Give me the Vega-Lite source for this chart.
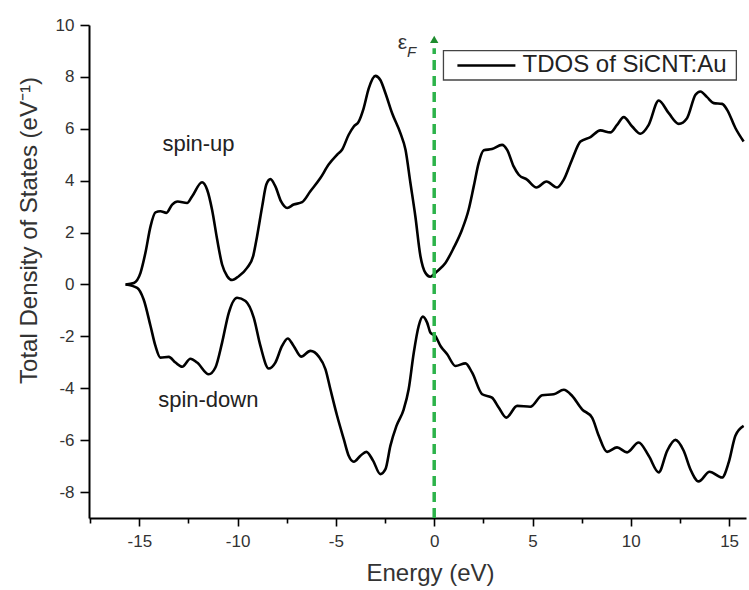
{
  "$schema": "https://vega.github.io/schema/vega-lite/v6.json",
  "autosize": {"type": "none"},
  "width": 657,
  "height": 493,
  "padding": {"left": 89, "top": 25, "right": 3, "bottom": 72},
  "background": "white",
  "config": {
    "view": {"stroke": null},
    "font": "Liberation Sans",
    "axis": {"grid": false, "domainColor": "#000000", "domainWidth": 2, "tickColor": "#000000", "tickWidth": 1.6, "labelFont": "Liberation Sans", "labelColor": "#333333", "labelFontSize": 17, "titleFont": "Liberation Sans", "titleColor": "#333333", "titleFontSize": 24, "titleFontWeight": "normal"}
  },
  "datasets": {
    "dos": [
      {"e": -15.7, "dos": 0.0, "spin": "up"},
      {"e": -15.28, "dos": 0.06, "spin": "up"},
      {"e": -14.94, "dos": 0.45, "spin": "up"},
      {"e": -14.69, "dos": 1.22, "spin": "up"},
      {"e": -14.43, "dos": 2.24, "spin": "up"},
      {"e": -14.18, "dos": 2.78, "spin": "up"},
      {"e": -13.93, "dos": 2.82, "spin": "up"},
      {"e": -13.62, "dos": 2.76, "spin": "up"},
      {"e": -13.33, "dos": 3.08, "spin": "up"},
      {"e": -13.05, "dos": 3.2, "spin": "up"},
      {"e": -12.57, "dos": 3.14, "spin": "up"},
      {"e": -12.31, "dos": 3.4, "spin": "up"},
      {"e": -11.81, "dos": 3.94, "spin": "up"},
      {"e": -11.55, "dos": 3.65, "spin": "up"},
      {"e": -11.3, "dos": 2.88, "spin": "up"},
      {"e": -11.04, "dos": 1.73, "spin": "up"},
      {"e": -10.79, "dos": 0.77, "spin": "up"},
      {"e": -10.53, "dos": 0.32, "spin": "up"},
      {"e": -10.28, "dos": 0.17, "spin": "up"},
      {"e": -9.94, "dos": 0.32, "spin": "up"},
      {"e": -9.52, "dos": 0.64, "spin": "up"},
      {"e": -9.21, "dos": 1.09, "spin": "up"},
      {"e": -9.01, "dos": 1.86, "spin": "up"},
      {"e": -8.75, "dos": 3.01, "spin": "up"},
      {"e": -8.54, "dos": 3.85, "spin": "up"},
      {"e": -8.33, "dos": 4.06, "spin": "up"},
      {"e": -8.08, "dos": 3.78, "spin": "up"},
      {"e": -7.79, "dos": 3.2, "spin": "up"},
      {"e": -7.48, "dos": 2.95, "spin": "up"},
      {"e": -7.15, "dos": 3.08, "spin": "up"},
      {"e": -6.72, "dos": 3.17, "spin": "up"},
      {"e": -6.3, "dos": 3.59, "spin": "up"},
      {"e": -5.79, "dos": 4.1, "spin": "up"},
      {"e": -5.37, "dos": 4.62, "spin": "up"},
      {"e": -4.94, "dos": 5.0, "spin": "up"},
      {"e": -4.69, "dos": 5.19, "spin": "up"},
      {"e": -4.35, "dos": 5.77, "spin": "up"},
      {"e": -4.09, "dos": 6.09, "spin": "up"},
      {"e": -3.84, "dos": 6.28, "spin": "up"},
      {"e": -3.59, "dos": 6.79, "spin": "up"},
      {"e": -3.33, "dos": 7.56, "spin": "up"},
      {"e": -2.99, "dos": 8.04, "spin": "up"},
      {"e": -2.74, "dos": 7.88, "spin": "up"},
      {"e": -2.48, "dos": 7.37, "spin": "up"},
      {"e": -2.14, "dos": 6.6, "spin": "up"},
      {"e": -1.72, "dos": 5.83, "spin": "up"},
      {"e": -1.46, "dos": 5.19, "spin": "up"},
      {"e": -1.21, "dos": 3.91, "spin": "up"},
      {"e": -0.96, "dos": 2.63, "spin": "up"},
      {"e": -0.7, "dos": 1.09, "spin": "up"},
      {"e": -0.45, "dos": 0.45, "spin": "up"},
      {"e": -0.21, "dos": 0.3, "spin": "up"},
      {"e": 0.15, "dos": 0.51, "spin": "up"},
      {"e": 0.57, "dos": 0.83, "spin": "up"},
      {"e": 0.99, "dos": 1.41, "spin": "up"},
      {"e": 1.42, "dos": 2.12, "spin": "up"},
      {"e": 1.75, "dos": 2.88, "spin": "up"},
      {"e": 2.01, "dos": 3.78, "spin": "up"},
      {"e": 2.26, "dos": 4.68, "spin": "up"},
      {"e": 2.52, "dos": 5.17, "spin": "up"},
      {"e": 2.94, "dos": 5.22, "spin": "up"},
      {"e": 3.45, "dos": 5.38, "spin": "up"},
      {"e": 3.71, "dos": 5.19, "spin": "up"},
      {"e": 4.04, "dos": 4.55, "spin": "up"},
      {"e": 4.3, "dos": 4.23, "spin": "up"},
      {"e": 4.72, "dos": 4.04, "spin": "up"},
      {"e": 5.2, "dos": 3.74, "spin": "up"},
      {"e": 5.71, "dos": 3.97, "spin": "up"},
      {"e": 6.25, "dos": 3.74, "spin": "up"},
      {"e": 6.59, "dos": 4.04, "spin": "up"},
      {"e": 7.01, "dos": 4.81, "spin": "up"},
      {"e": 7.44, "dos": 5.51, "spin": "up"},
      {"e": 7.95, "dos": 5.68, "spin": "up"},
      {"e": 8.45, "dos": 5.94, "spin": "up"},
      {"e": 8.96, "dos": 5.86, "spin": "up"},
      {"e": 9.3, "dos": 6.15, "spin": "up"},
      {"e": 9.64, "dos": 6.45, "spin": "up"},
      {"e": 10.07, "dos": 6.09, "spin": "up"},
      {"e": 10.49, "dos": 5.81, "spin": "up"},
      {"e": 10.91, "dos": 6.15, "spin": "up"},
      {"e": 11.42, "dos": 7.09, "spin": "up"},
      {"e": 11.93, "dos": 6.6, "spin": "up"},
      {"e": 12.44, "dos": 6.19, "spin": "up"},
      {"e": 12.86, "dos": 6.41, "spin": "up"},
      {"e": 13.29, "dos": 7.31, "spin": "up"},
      {"e": 13.54, "dos": 7.44, "spin": "up"},
      {"e": 13.88, "dos": 7.22, "spin": "up"},
      {"e": 14.22, "dos": 6.99, "spin": "up"},
      {"e": 14.64, "dos": 6.96, "spin": "up"},
      {"e": 14.9, "dos": 6.73, "spin": "up"},
      {"e": 15.32, "dos": 6.03, "spin": "up"},
      {"e": 15.74, "dos": 5.51, "spin": "up"},
      {"e": -15.7, "dos": 0.0, "spin": "down"},
      {"e": -15.11, "dos": -0.13, "spin": "down"},
      {"e": -14.78, "dos": -0.58, "spin": "down"},
      {"e": -14.43, "dos": -1.6, "spin": "down"},
      {"e": -14.18, "dos": -2.37, "spin": "down"},
      {"e": -13.93, "dos": -2.82, "spin": "down"},
      {"e": -13.5, "dos": -2.79, "spin": "down"},
      {"e": -13.16, "dos": -3.01, "spin": "down"},
      {"e": -12.82, "dos": -3.17, "spin": "down"},
      {"e": -12.4, "dos": -2.86, "spin": "down"},
      {"e": -12.06, "dos": -3.01, "spin": "down"},
      {"e": -11.47, "dos": -3.46, "spin": "down"},
      {"e": -11.13, "dos": -3.2, "spin": "down"},
      {"e": -10.79, "dos": -2.24, "spin": "down"},
      {"e": -10.45, "dos": -1.09, "spin": "down"},
      {"e": -10.03, "dos": -0.51, "spin": "down"},
      {"e": -9.6, "dos": -0.64, "spin": "down"},
      {"e": -9.18, "dos": -1.28, "spin": "down"},
      {"e": -8.84, "dos": -2.37, "spin": "down"},
      {"e": -8.42, "dos": -3.24, "spin": "down"},
      {"e": -8.08, "dos": -3.01, "spin": "down"},
      {"e": -7.74, "dos": -2.37, "spin": "down"},
      {"e": -7.45, "dos": -2.08, "spin": "down"},
      {"e": -7.15, "dos": -2.37, "spin": "down"},
      {"e": -6.77, "dos": -2.78, "spin": "down"},
      {"e": -6.3, "dos": -2.56, "spin": "down"},
      {"e": -5.87, "dos": -2.78, "spin": "down"},
      {"e": -5.53, "dos": -3.27, "spin": "down"},
      {"e": -5.28, "dos": -4.04, "spin": "down"},
      {"e": -4.94, "dos": -5.06, "spin": "down"},
      {"e": -4.6, "dos": -5.96, "spin": "down"},
      {"e": -4.35, "dos": -6.6, "spin": "down"},
      {"e": -4.09, "dos": -6.83, "spin": "down"},
      {"e": -3.75, "dos": -6.6, "spin": "down"},
      {"e": -3.45, "dos": -6.45, "spin": "down"},
      {"e": -3.11, "dos": -6.79, "spin": "down"},
      {"e": -2.74, "dos": -7.31, "spin": "down"},
      {"e": -2.48, "dos": -7.12, "spin": "down"},
      {"e": -2.23, "dos": -6.22, "spin": "down"},
      {"e": -1.92, "dos": -5.45, "spin": "down"},
      {"e": -1.55, "dos": -4.81, "spin": "down"},
      {"e": -1.3, "dos": -4.04, "spin": "down"},
      {"e": -1.04, "dos": -2.63, "spin": "down"},
      {"e": -0.79, "dos": -1.6, "spin": "down"},
      {"e": -0.58, "dos": -1.24, "spin": "down"},
      {"e": -0.36, "dos": -1.47, "spin": "down"},
      {"e": -0.19, "dos": -1.86, "spin": "down"},
      {"e": 0.06, "dos": -1.99, "spin": "down"},
      {"e": 0.32, "dos": -2.37, "spin": "down"},
      {"e": 0.66, "dos": -2.69, "spin": "down"},
      {"e": 1.08, "dos": -3.14, "spin": "down"},
      {"e": 1.59, "dos": -3.04, "spin": "down"},
      {"e": 1.93, "dos": -3.4, "spin": "down"},
      {"e": 2.44, "dos": -4.23, "spin": "down"},
      {"e": 2.94, "dos": -4.36, "spin": "down"},
      {"e": 3.28, "dos": -4.74, "spin": "down"},
      {"e": 3.67, "dos": -5.13, "spin": "down"},
      {"e": 4.22, "dos": -4.68, "spin": "down"},
      {"e": 4.89, "dos": -4.71, "spin": "down"},
      {"e": 5.49, "dos": -4.27, "spin": "down"},
      {"e": 6.08, "dos": -4.23, "spin": "down"},
      {"e": 6.59, "dos": -4.06, "spin": "down"},
      {"e": 7.01, "dos": -4.29, "spin": "down"},
      {"e": 7.52, "dos": -4.81, "spin": "down"},
      {"e": 8.03, "dos": -5.13, "spin": "down"},
      {"e": 8.37, "dos": -5.83, "spin": "down"},
      {"e": 8.79, "dos": -6.45, "spin": "down"},
      {"e": 9.3, "dos": -6.28, "spin": "down"},
      {"e": 9.81, "dos": -6.47, "spin": "down"},
      {"e": 10.4, "dos": -6.09, "spin": "down"},
      {"e": 10.91, "dos": -6.6, "spin": "down"},
      {"e": 11.42, "dos": -7.24, "spin": "down"},
      {"e": 11.85, "dos": -6.41, "spin": "down"},
      {"e": 12.27, "dos": -5.99, "spin": "down"},
      {"e": 12.69, "dos": -6.41, "spin": "down"},
      {"e": 13.03, "dos": -7.12, "spin": "down"},
      {"e": 13.45, "dos": -7.59, "spin": "down"},
      {"e": 14.01, "dos": -7.22, "spin": "down"},
      {"e": 14.64, "dos": -7.44, "spin": "down"},
      {"e": 14.98, "dos": -6.86, "spin": "down"},
      {"e": 15.32, "dos": -5.83, "spin": "down"},
      {"e": 15.74, "dos": -5.45, "spin": "down"}
    ],
    "fermi": [
      {"e": 0, "dos": -9},
      {"e": 0, "dos": 9.1}
    ],
    "arrow": [
      {"e": 0, "dos": 9.45}
    ],
    "labels": [
      {"e": -11.99, "dos": 5.4, "text": "spin-up"},
      {"e": -11.49, "dos": -4.45, "text": "spin-down"}
    ],
    "eps": [
      {"e": -1.62, "dos": 9.3, "text": "ε"}
    ],
    "epsF": [
      {"e": -1.15, "dos": 8.95, "text": "F"}
    ],
    "legendBox": [
      {"e": 0.47, "e2": 15.37, "dos": 9.01, "dos2": 7.88}
    ],
    "legendLine": [
      {"e": 1.18, "e2": 4.13, "dos": 8.44}
    ],
    "legendText": [
      {"e": 4.49, "dos": 8.44, "text": "TDOS of SiCNT:Au"}
    ]
  },
  "layer": [
    {
      "data": {"name": "dos"},
      "mark": {"type": "line", "interpolate": "monotone", "strokeWidth": 2.6, "color": "#000000", "clip": true},
      "encoding": {
        "x": {
          "field": "e", "type": "quantitative",
          "scale": {"domain": [-17.56, 15.86], "nice": false, "zero": false},
          "axis": {
            "title": "Energy (eV)",
            "values": [-17.5, -15, -12.5, -10, -7.5, -5, -2.5, 0, 2.5, 5, 7.5, 10, 12.5, 15],
            "labelExpr": "datum.value % 5 === 0 ? ('' + datum.value) : ''",
            "tickSize": {"condition": {"test": "datum.value % 5 === 0", "value": 8}, "value": 5},
            "labelPadding": 7,
            "titlePadding": 12,
            "titleX": 341
          }
        },
        "y": {
          "field": "dos", "type": "quantitative",
          "scale": {"domain": [-9, 10], "nice": false, "zero": false},
          "axis": {
            "title": "Total Density of States (eV⁻¹)",
            "values": [-8, -7, -6, -5, -4, -3, -2, -1, 0, 1, 2, 3, 4, 5, 6, 7, 8, 9, 10],
            "labelExpr": "datum.value % 2 === 0 ? ('' + datum.value) : ''",
            "tickSize": {"condition": {"test": "datum.value % 2 === 0", "value": 9}, "value": 5},
            "labelPadding": 6,
            "titlePadding": 14,
            "titleY": 205
          }
        },
        "detail": {"field": "spin", "type": "nominal"}
      }
    },
    {
      "data": {"name": "fermi"},
      "mark": {"type": "line", "color": "#2cb34a", "strokeWidth": 3.5, "strokeDash": [10, 6]},
      "encoding": {
        "x": {"field": "e", "type": "quantitative"},
        "y": {"field": "dos", "type": "quantitative"}
      }
    },
    {
      "data": {"name": "arrow"},
      "mark": {"type": "point", "shape": "triangle-up", "filled": true, "color": "#1e8c2e", "size": 70, "opacity": 1},
      "encoding": {
        "x": {"field": "e", "type": "quantitative"},
        "y": {"field": "dos", "type": "quantitative"}
      }
    },
    {
      "data": {"name": "legendBox"},
      "mark": {"type": "rect", "fill": "#ffffff", "stroke": "#444444", "strokeWidth": 1.3},
      "encoding": {
        "x": {"field": "e", "type": "quantitative"},
        "x2": {"field": "e2"},
        "y": {"field": "dos", "type": "quantitative"},
        "y2": {"field": "dos2"}
      }
    },
    {
      "data": {"name": "legendLine"},
      "mark": {"type": "rule", "color": "#000000", "strokeWidth": 2.6},
      "encoding": {
        "x": {"field": "e", "type": "quantitative"},
        "x2": {"field": "e2"},
        "y": {"field": "dos", "type": "quantitative"}
      }
    },
    {
      "data": {"name": "legendText"},
      "mark": {"type": "text", "font": "Liberation Sans", "fontSize": 24, "color": "#222222", "align": "left", "baseline": "middle"},
      "encoding": {
        "x": {"field": "e", "type": "quantitative"},
        "y": {"field": "dos", "type": "quantitative"},
        "text": {"field": "text"}
      }
    },
    {
      "data": {"name": "labels"},
      "mark": {"type": "text", "font": "Liberation Sans", "fontSize": 22, "color": "#222222", "align": "center", "baseline": "middle"},
      "encoding": {
        "x": {"field": "e", "type": "quantitative"},
        "y": {"field": "dos", "type": "quantitative"},
        "text": {"field": "text"}
      }
    },
    {
      "data": {"name": "eps"},
      "mark": {"type": "text", "font": "Liberation Sans", "fontSize": 21, "color": "#333333", "align": "center", "baseline": "middle"},
      "encoding": {
        "x": {"field": "e", "type": "quantitative"},
        "y": {"field": "dos", "type": "quantitative"},
        "text": {"field": "text"}
      }
    },
    {
      "data": {"name": "epsF"},
      "mark": {"type": "text", "font": "Liberation Sans", "fontSize": 15, "fontStyle": "italic", "color": "#333333", "align": "center", "baseline": "middle"},
      "encoding": {
        "x": {"field": "e", "type": "quantitative"},
        "y": {"field": "dos", "type": "quantitative"},
        "text": {"field": "text"}
      }
    }
  ]
}
